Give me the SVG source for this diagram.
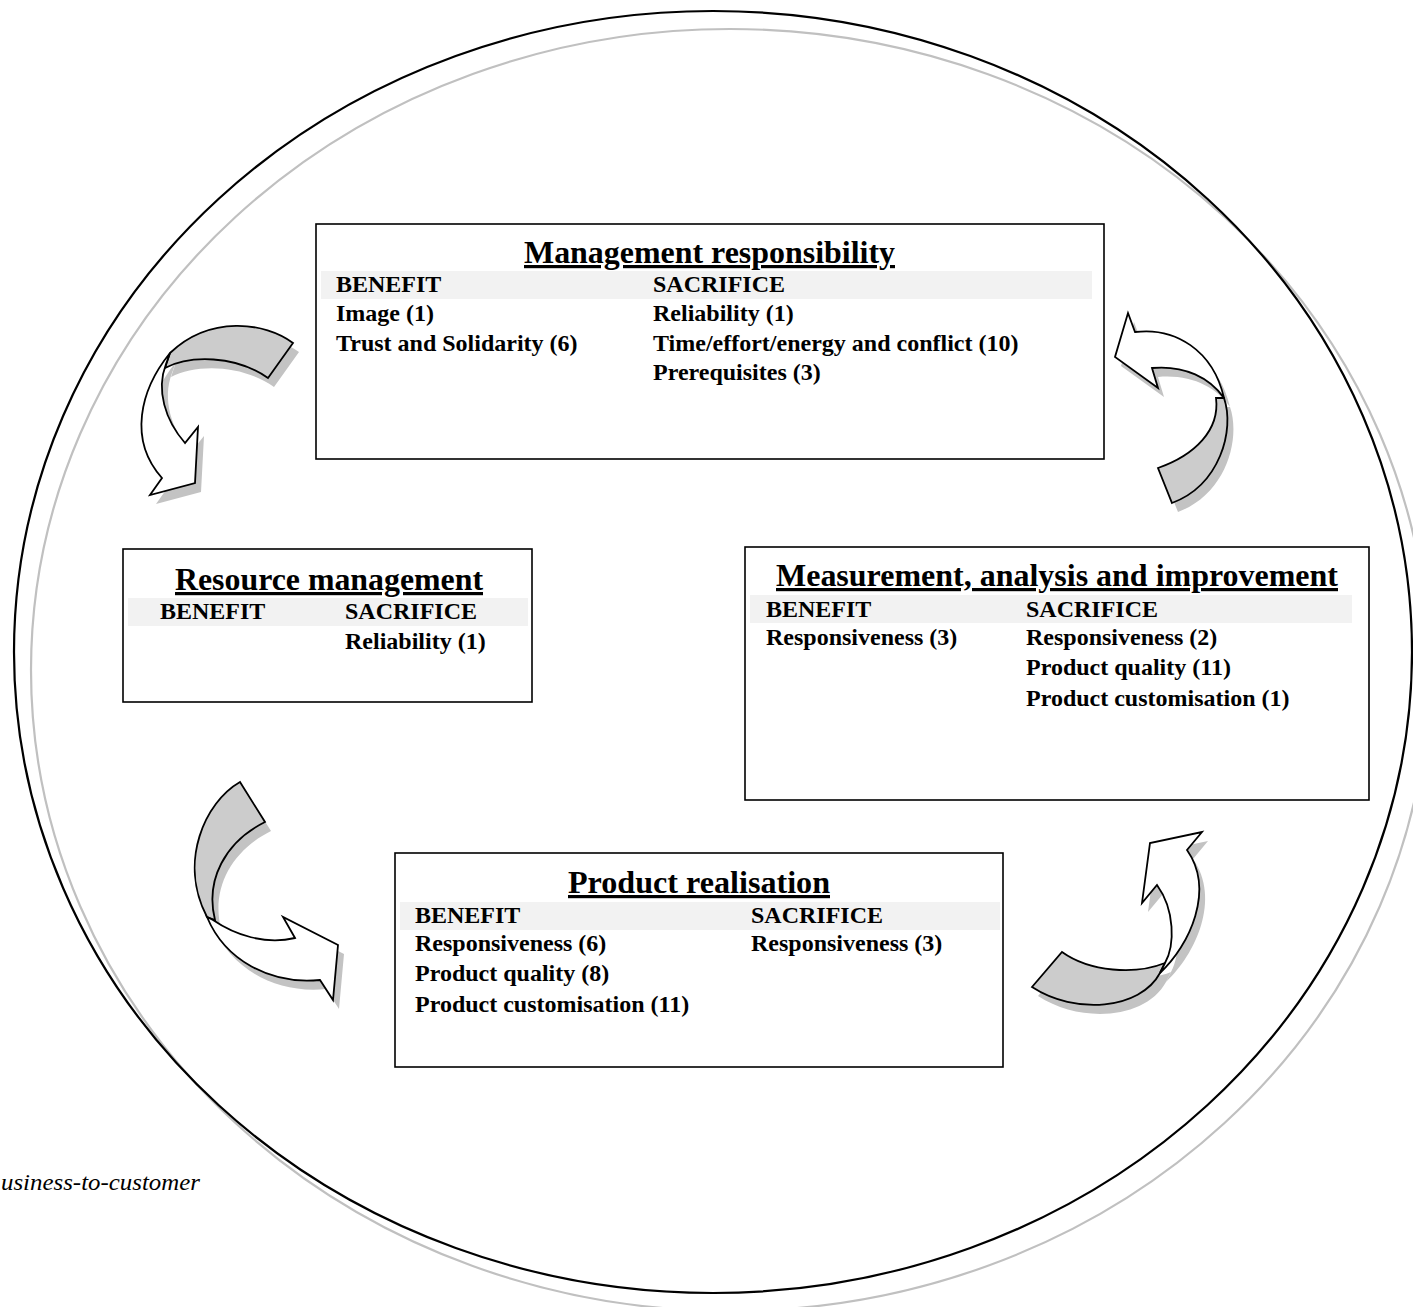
<svg xmlns="http://www.w3.org/2000/svg" width="1413" height="1307" viewBox="0 0 1413 1307">
<style>
.box{fill:#fff;stroke:#000;stroke-width:1.6}
.bar{fill:#f2f2f2}
.t{font-family:"Liberation Serif","Times New Roman",serif;font-weight:bold;font-size:24px;fill:#000}
.h{font-family:"Liberation Serif","Times New Roman",serif;font-weight:bold;font-size:32px;fill:#000;text-decoration:underline}
.it{font-family:"Liberation Serif","Times New Roman",serif;font-style:italic;font-size:24px;fill:#000}
.shadow{fill:#c3c3c3;stroke:none}
.band{fill:#cccccc;stroke:#000;stroke-width:1.8;stroke-linejoin:miter}
.front{fill:#fff;stroke:#000;stroke-width:1.8;stroke-linejoin:miter}
</style>
<rect width="1413" height="1307" fill="#fff"/>
<g id="frame">
<ellipse cx="730" cy="670" rx="699" ry="641" fill="none" stroke="#c0c0c0" stroke-width="2.2"/>
<ellipse cx="713" cy="652" rx="699" ry="641" fill="none" stroke="#000" stroke-width="2.2"/>
</g>
<text class="it" x="1" y="1190" textLength="199" lengthAdjust="spacingAndGlyphs">usiness-to-customer</text>

<g id="connectors">
<g id="arrow-tl">
<g class="shadow" transform="translate(6,9)">
<path d="M293,343 C265,322 210,315 170,353 L165,368 C190,355 235,355 268,378 Z"/>
<path d="M170,353 C140,390 128,440 162,478 L150,495 L195,483 L198,427 L185,443 C165,420 156,390 166,364 Z"/>
</g>
<path class="band" d="M293,343 C265,322 210,315 170,353 L165,368 C190,355 235,355 268,378 Z"/>
<path class="front" d="M170,353 C140,390 128,440 162,478 L150,495 L195,483 L198,427 L185,443 C165,420 156,390 166,364 Z"/>
</g>
<g id="arrow-tr">
<g class="shadow" transform="translate(6,9)">
<path d="M1224,398 C1235,430 1220,485 1172,503 L1158,468 C1195,455 1220,430 1216,398 Z"/>
<path d="M1128,313 L1135,332 C1175,327 1213,350 1224,398 C1210,378 1185,365 1152,368 L1158,388 L1115,357 Z"/>
</g>
<path class="band" d="M1224,398 C1235,430 1220,485 1172,503 L1158,468 C1195,455 1220,430 1216,398 Z"/>
<path class="front" d="M1128,313 L1135,332 C1175,327 1213,350 1224,398 C1210,378 1185,365 1152,368 L1158,388 L1115,357 Z"/>
</g>
<g id="arrow-bl">
<g class="shadow" transform="translate(6,9)">
<path d="M240,782 C205,802 178,862 207,917 L215,920 C205,880 225,842 265,822 Z"/>
<path d="M207,917 C225,960 270,985 320,980 L333,1000 L338,945 L283,917 L295,938 C265,945 235,935 213,920 Z"/>
</g>
<path class="band" d="M240,782 C205,802 178,862 207,917 L215,920 C205,880 225,842 265,822 Z"/>
<path class="front" d="M207,917 C225,960 270,985 320,980 L333,1000 L338,945 L283,917 L295,938 C265,945 235,935 213,920 Z"/>
</g>
<g id="arrow-br">
<g class="shadow" transform="translate(6,9)">
<path d="M1032,987 C1075,1015 1140,1010 1160,973 L1165,963 C1135,975 1090,972 1062,952 Z"/>
<path d="M1160,973 C1190,945 1215,890 1187,850 L1202,832 L1150,843 L1142,903 L1157,885 C1175,910 1175,945 1165,963 Z"/>
</g>
<path class="band" d="M1032,987 C1075,1015 1140,1010 1160,973 L1165,963 C1135,975 1090,972 1062,952 Z"/>
<path class="front" d="M1160,973 C1190,945 1215,890 1187,850 L1202,832 L1150,843 L1142,903 L1157,885 C1175,910 1175,945 1165,963 Z"/>
</g>
</g>

<g id="management-responsibility">
<rect class="box" x="316" y="224" width="788" height="235"/>
<rect class="bar" x="321" y="271" width="771" height="28"/>
<text class="h" x="524" y="263" textLength="371" lengthAdjust="spacingAndGlyphs">Management responsibility</text>
<text class="t" x="336" y="292">BENEFIT</text>
<text class="t" x="653" y="292">SACRIFICE</text>
<text class="t" x="336" y="321">Image (1)</text>
<text class="t" x="653" y="321">Reliability (1)</text>
<text class="t" x="336" y="351">Trust and Solidarity (6)</text>
<text class="t" x="653" y="351">Time/effort/energy and conflict (10)</text>
<text class="t" x="653" y="380">Prerequisites (3)</text>
</g>

<g id="resource-management">
<rect class="box" x="123" y="549" width="409" height="153"/>
<rect class="bar" x="128" y="598" width="400" height="28"/>
<text class="h" x="175" y="590" textLength="308" lengthAdjust="spacingAndGlyphs">Resource management</text>
<text class="t" x="160" y="619">BENEFIT</text>
<text class="t" x="345" y="619">SACRIFICE</text>
<text class="t" x="345" y="649">Reliability (1)</text>
</g>

<g id="measurement-analysis-improvement">
<rect class="box" x="745" y="547" width="624" height="253"/>
<rect class="bar" x="750" y="595" width="602" height="28"/>
<text class="h" x="776" y="586" textLength="562" lengthAdjust="spacingAndGlyphs">Measurement, analysis and improvement</text>
<text class="t" x="766" y="617">BENEFIT</text>
<text class="t" x="1026" y="617">SACRIFICE</text>
<text class="t" x="766" y="645">Responsiveness (3)</text>
<text class="t" x="1026" y="645">Responsiveness (2)</text>
<text class="t" x="1026" y="675">Product quality (11)</text>
<text class="t" x="1026" y="706">Product customisation (1)</text>
</g>

<g id="product-realisation">
<rect class="box" x="395" y="853" width="608" height="214"/>
<rect class="bar" x="400" y="902" width="600" height="28"/>
<text class="h" x="568" y="893" textLength="262" lengthAdjust="spacingAndGlyphs">Product realisation</text>
<text class="t" x="415" y="923">BENEFIT</text>
<text class="t" x="751" y="923">SACRIFICE</text>
<text class="t" x="415" y="951">Responsiveness (6)</text>
<text class="t" x="751" y="951">Responsiveness (3)</text>
<text class="t" x="415" y="981">Product quality (8)</text>
<text class="t" x="415" y="1012">Product customisation (11)</text>
</g>
</svg>
